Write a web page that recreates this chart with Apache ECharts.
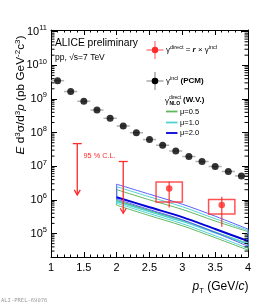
<!DOCTYPE html>
<html><head><meta charset="utf-8">
<script src="https://cdn.jsdelivr.net/npm/echarts@6/dist/echarts.min.js"></script>
<style>html,body{margin:0;padding:0;background:#fff}#c{width:276px;height:304px}</style>
</head><body><div id="c"></div>
<script>
// ---- data ----
const pcmX = [1.1,1.3,1.5,1.7,1.9,2.1,2.3,2.5,2.7,2.9,3.1,3.3,3.5,3.7,3.9];
const pcmY = [3.49e9,1.66e9,8.5e8,4.69e8,2.66e8,1.57e8,9.9e7,6.2e7,4.2e7,2.83e7,1.94e7,1.38e7,9.8e6,6.97e6,5.15e6];
const pcmXErr = [0.1,0.1,0.1,0.1,0.1,0.1,0.1,0.1,0.1,0.1,0.1,0.1,0.1,0.1,0.1];

const dirX = [2.8, 3.6];
const dirY = [2.18e6, 6.97e5];
const dirStatLo = [5.9e5, 1.58e5];
const dirStatHi = [3.5e6, 1.23e6];
const dirSysLo = [8.7e5, 3.77e5];
const dirSysHi = [3.42e6, 1.03e6];
const dirSysXErr = [0.2, 0.2];

const ulX = [1.4, 2.1];
const ulY = [4.7e7, 1.38e7];
const ulArrowEnd = [1.4e6, 4.0e5];

const nloX = [2.0, 2.5, 3.0, 3.5, 4.0];
const nlo05Up  = [2.01e6, 1.00e6, 5.19e5, 2.34e5, 1.14e5];
const nlo05Cen = [9.46e5, 4.79e5, 2.45e5, 1.10e5, 4.85e4];
const nlo05Lo  = [6.92e5, 3.39e5, 1.70e5, 7.50e4, 3.21e4];
const nlo10Up  = [2.47e6, 1.23e6, 6.24e5, 2.75e5, 1.23e5];
const nlo10Cen = [8.90e5, 4.47e5, 2.29e5, 1.05e5, 5.00e4];
const nlo10Lo  = [7.90e5, 3.90e5, 1.95e5, 8.60e4, 3.63e4];
const nlo20Up  = [2.92e6, 1.47e6, 7.41e5, 3.27e5, 1.35e5];
const nlo20Cen = [1.20e6, 6.03e5, 3.07e5, 1.36e5, 5.96e4];
const nlo20Lo  = [1.05e6, 5.13e5, 2.57e5, 1.07e5, 4.17e4];

const xMin = 1, xMax = 4, xInterval = 0.5;
const yMin = 2e4, yMax = 1.12e11;

// ---- styles ----
const FONT = 'Liberation Sans, Arial, sans-serif';
const RED = '#ff2a2a';
const GREEN = '#5fb85f';
const CYAN = '#4fd3d3';
const BLUE = '#0000d8';
const LBLUE = '#5a5cff';

const yMinorTicks = [];
for (let e = 4; e <= 11; e++) for (let m = 2; m <= 9; m++) {
  const v = m * Math.pow(10, e);
  if (v > yMin && v < yMax) yMinorTicks.push([xMin, v]);
}

function lineSeries(arr, color, width) {
  return {type:'line', data: nloX.map((x,i)=>[x, arr[i]]), showSymbol:false, smooth:0.3,
    lineStyle:{color:color, width:width}, z:2, silent:true};
}
function bandEnds(up, lo, color) {
  const n = nloX.length - 1;
  return {type:'custom', z:2, silent:true,
    data:[[nloX[0], up[0], lo[0]], [nloX[n], up[n], lo[n]]],
    renderItem:(p, api)=>{
      const a = api.coord([api.value(0), api.value(1)]);
      const b = api.coord([api.value(0), api.value(2)]);
      return {type:'line', shape:{x1:a[0],y1:a[1],x2:b[0],y2:b[1]}, style:{stroke:color, lineWidth:1}};
    }};
}

const chart = echarts.init(document.getElementById('c'), null, {renderer:'canvas'});
const axisCommon = {
  axisLine:{show:true, onZero:false, lineStyle:{color:'#000', width:1}},
  splitLine:{show:false}
};
const option = {
  animation:false,
  backgroundColor:'#fff',
  grid:{left:51, right:28, top:30, bottom:47, containLabel:false, outerBoundsMode:'none'},
  xAxis:[
    Object.assign({type:'value', min:xMin, max:xMax, interval:xInterval, position:'bottom',
      axisTick:{inside:true, length:5, lineStyle:{color:'#000'}},
      minorTick:{show:true, splitNumber:5, length:2.5, lineStyle:{color:'#000'}},
      axisLabel:{color:'#000', fontSize:11, fontFamily:FONT, margin:5}}, axisCommon),
    Object.assign({type:'value', min:xMin, max:xMax, interval:xInterval, position:'top',
      axisTick:{inside:true, length:5, lineStyle:{color:'#000'}},
      minorTick:{show:true, splitNumber:5, length:2.5, lineStyle:{color:'#000'}},
      axisLabel:{show:false}}, axisCommon)
  ],
  yAxis:[
    Object.assign({type:'log', logBase:10, min:yMin, max:yMax, position:'left',
      axisTick:{inside:true, length:6, lineStyle:{color:'#000'}},
      axisLabel:{color:'#000', fontFamily:FONT, margin:4,
        formatter:(v)=>{
          const l = Math.log10(v); const e = Math.round(l);
          if (Math.abs(l - e) > 1e-6) return '';
          return '{b|10}{s|' + e + '}';
        },
        rich:{b:{fontSize:11, fontFamily:FONT, color:'#000', lineHeight:15},
              s:{fontSize:7.5, fontFamily:FONT, color:'#000', lineHeight:8, verticalAlign:'top'}}}}, axisCommon),
    Object.assign({type:'log', logBase:10, min:yMin, max:yMax, position:'right',
      axisTick:{inside:true, length:6, lineStyle:{color:'#000'}},
      axisLabel:{show:false}}, axisCommon)
  ],
  series:[
    {type:'custom', silent:true, z:10, data:yMinorTicks,
      renderItem:(p, api)=>{
        const l = api.coord([xMin, api.value(1)]);
        const r = api.coord([xMax, api.value(1)]);
        return {type:'group', children:[
          {type:'line', shape:{x1:l[0],y1:l[1],x2:l[0]+3.5,y2:l[1]}, style:{stroke:'#000', lineWidth:1}},
          {type:'line', shape:{x1:r[0]-3.5,y1:r[1],x2:r[0],y2:r[1]}, style:{stroke:'#000', lineWidth:1}}
        ]};
      }},
    lineSeries(nlo05Up, GREEN, 1), lineSeries(nlo05Lo, GREEN, 1), lineSeries(nlo05Cen, GREEN, 1.5),
    lineSeries(nlo10Up, CYAN, 1), lineSeries(nlo10Lo, CYAN, 1), lineSeries(nlo10Cen, CYAN, 1.5),
    lineSeries(nlo20Up, LBLUE, 1), lineSeries(nlo20Lo, LBLUE, 1), lineSeries(nlo20Cen, BLUE, 2),
    bandEnds(nlo05Up, nlo05Lo, GREEN), bandEnds(nlo10Up, nlo10Lo, CYAN), bandEnds(nlo20Up, nlo20Lo, LBLUE),
    {type:'custom', silent:true, z:4, data:pcmX.map((x,i)=>[x, pcmY[i], pcmXErr[i]]),
      renderItem:(p, api)=>{
        const a = api.coord([api.value(0)-api.value(2), api.value(1)]);
        const b = api.coord([api.value(0)+api.value(2), api.value(1)]);
        return {type:'line', shape:{x1:a[0],y1:a[1],x2:b[0],y2:b[1]}, style:{stroke:'#b0b0b0', lineWidth:1.5}};
      }},
    {type:'scatter', silent:true, z:5, data:pcmX.map((x,i)=>[x, pcmY[i]]), symbol:'circle', symbolSize:7,
      itemStyle:{color:'#000'}},
    {type:'custom', silent:true, z:5,
      data:dirX.map((x,i)=>[x, dirY[i], dirSysXErr[i], dirSysLo[i], dirSysHi[i], dirStatLo[i], dirStatHi[i]]),
      renderItem:(p, api)=>{
        const x = api.value(0), xe = api.value(2);
        const tl = api.coord([x-xe, api.value(4)]);
        const br = api.coord([x+xe, api.value(3)]);
        const st = api.coord([x, api.value(6)]);
        const sb = api.coord([x, api.value(5)]);
        return {type:'group', children:[
          {type:'rect', shape:{x:tl[0], y:tl[1], width:br[0]-tl[0], height:br[1]-tl[1]},
            style:{fill:'none', stroke:'rgba(255,40,40,0.8)', lineWidth:1.5}},
          {type:'line', shape:{x1:st[0],y1:st[1],x2:sb[0],y2:sb[1]}, style:{stroke:'rgba(255,40,40,0.75)', lineWidth:1.5}}
        ]};
      }},
    {type:'scatter', silent:true, z:6, data:dirX.map((x,i)=>[x, dirY[i]]), symbol:'circle', symbolSize:6.5,
      itemStyle:{color:RED}},
    {type:'custom', silent:true, z:6, data:ulX.map((x,i)=>[x, ulY[i], ulArrowEnd[i]]),
      renderItem:(p, api)=>{
        const t = api.coord([api.value(0), api.value(1)]);
        const b = api.coord([api.value(0), api.value(2)]);
        const st = {stroke:RED, lineWidth:1.3, fill:'none'};
        return {type:'group', children:[
          {type:'line', shape:{x1:t[0],y1:t[1],x2:b[0],y2:b[1]}, style:st},
          {type:'line', shape:{x1:t[0]-4.5,y1:t[1],x2:t[0]+4.5,y2:t[1]}, style:st},
          {type:'polyline', shape:{points:[[b[0]-3,b[1]-5],[b[0],b[1]],[b[0]+3,b[1]-5]]}, style:st}
        ]};
      }}
  ],
  graphic:[
    {type:'text', x:55, y:43.5, silent:true, style:{text:'ALICE preliminary', font:'10.3px '+FONT, fill:'#000', verticalAlign:'middle', textVerticalAlign:'middle'}},
    {type:'text', x:55, y:57.5, silent:true, style:{text:'pp, √s=7 TeV', font:'8.5px '+FONT, fill:'#000', verticalAlign:'middle', textVerticalAlign:'middle'}},
    {type:'text', x:83.5, y:156, silent:true, style:{text:'95 % C.L.', font:'7.3px '+FONT, fill:RED, verticalAlign:'middle', textVerticalAlign:'middle'}},
    {type:'line', silent:true, shape:{x1:146.5,y1:50,x2:163.5,y2:50}, style:{stroke:'rgba(255,40,40,0.55)', lineWidth:1.5}},
    {type:'line', silent:true, shape:{x1:155,y1:41,x2:155,y2:59}, style:{stroke:'rgba(255,40,40,0.55)', lineWidth:1.5}},
    {type:'circle', silent:true, shape:{cx:155, cy:50, r:3.2}, style:{fill:RED}},
    {type:'text', x:166, y:49.5, silent:true, style:{
      text:'{n|γ}{s|direct}{n| = }{bi|r}{n| × γ}{s|incl}', font:'8px '+FONT, fill:'#000', verticalAlign:'middle', textVerticalAlign:'middle',
      rich:{n:{fontSize:8, fontFamily:FONT, lineHeight:11}, s:{fontSize:5.5, fontFamily:FONT, lineHeight:6, verticalAlign:'top'},
            bi:{fontSize:8, fontFamily:FONT, fontStyle:'italic', fontWeight:'bold', lineHeight:11}}}},
    {type:'line', silent:true, shape:{x1:146.5,y1:81,x2:163.5,y2:81}, style:{stroke:'#a8a8a8', lineWidth:1.5}},
    {type:'line', silent:true, shape:{x1:155,y1:72,x2:155,y2:90}, style:{stroke:'#a8a8a8', lineWidth:1.5}},
    {type:'circle', silent:true, shape:{cx:155, cy:81, r:3.3}, style:{fill:'#000'}},
    {type:'text', x:166, y:81, silent:true, style:{
      text:'{n|γ}{s|incl}{b| (PCM)}', font:'8px '+FONT, fill:'#000', verticalAlign:'middle', textVerticalAlign:'middle',
      rich:{n:{fontSize:8, fontFamily:FONT, lineHeight:11}, s:{fontSize:5.5, fontFamily:FONT, lineHeight:6, verticalAlign:'top'},
            b:{fontSize:8, fontFamily:FONT, fontWeight:'bold', lineHeight:11}}}},
    {type:'text', x:165, y:100.5, silent:true, style:{text:'γ', font:'8px '+FONT, fill:'#000', verticalAlign:'middle', textVerticalAlign:'middle'}},
    {type:'text', x:169, y:97.5, silent:true, style:{text:'direct', font:'5px '+FONT, fill:'#000', verticalAlign:'middle', textVerticalAlign:'middle'}},
    {type:'text', x:169.5, y:103.5, silent:true, style:{text:'NLO', font:'bold 5px '+FONT, fill:'#000', verticalAlign:'middle', textVerticalAlign:'middle'}},
    {type:'text', x:183, y:100, silent:true, style:{text:'(W.V.)', font:'bold 8px '+FONT, fill:'#000', verticalAlign:'middle', textVerticalAlign:'middle'}},
    {type:'line', silent:true, shape:{x1:166,y1:111.5,x2:177.5,y2:111.5}, style:{stroke:GREEN, lineWidth:1.8}},
    {type:'text', x:180, y:111.5, silent:true, style:{text:'μ=0.5', font:'7.5px '+FONT, fill:'#000', verticalAlign:'middle', textVerticalAlign:'middle'}},
    {type:'line', silent:true, shape:{x1:166,y1:122.5,x2:177.5,y2:122.5}, style:{stroke:CYAN, lineWidth:1.8}},
    {type:'text', x:180, y:122.5, silent:true, style:{text:'μ=1.0', font:'7.5px '+FONT, fill:'#000', verticalAlign:'middle', textVerticalAlign:'middle'}},
    {type:'line', silent:true, shape:{x1:166,y1:133,x2:177.5,y2:133}, style:{stroke:BLUE, lineWidth:1.8}},
    {type:'text', x:180, y:133, silent:true, style:{text:'μ=2.0', font:'7.5px '+FONT, fill:'#000', verticalAlign:'middle', textVerticalAlign:'middle'}},
    {type:'text', x:21, y:95, rotation:Math.PI/2, silent:true, style:{
      text:'{i|E}{n| d}{s|3}{n|σ/d}{s|3}{i|p}{n| (pb GeV}{s|-2}{n|c}{s|3}{n|)}',
      align:'center', textAlign:'center', verticalAlign:'middle', textVerticalAlign:'middle', fill:'#000', font:'11.8px '+FONT,
      rich:{n:{fontSize:11.8, fontFamily:FONT, lineHeight:15}, i:{fontSize:11.8, fontFamily:FONT, fontStyle:'italic', lineHeight:15},
            s:{fontSize:8, fontFamily:FONT, lineHeight:9, verticalAlign:'top'}}}},
    {type:'text', x:248.5, y:287, silent:true, style:{
      text:'{i|p}{t|T}{n| (GeV/}{i|c}{n|)}',
      align:'right', textAlign:'right', verticalAlign:'middle', textVerticalAlign:'middle', fill:'#000', font:'12px '+FONT,
      rich:{n:{fontSize:12, fontFamily:FONT, lineHeight:16}, i:{fontSize:12, fontFamily:FONT, fontStyle:'italic', lineHeight:16},
            t:{fontSize:7.5, fontFamily:FONT, lineHeight:9, verticalAlign:'bottom'}}}},
    {type:'text', x:1, y:300.5, silent:true, style:{text:'ALI-PREL-69076', font:'5.5px DejaVu Sans Mono, monospace', fill:'#9a9a9a', verticalAlign:'middle', textVerticalAlign:'middle'}}
  ]
};
chart.setOption(option);
</script></body></html>
